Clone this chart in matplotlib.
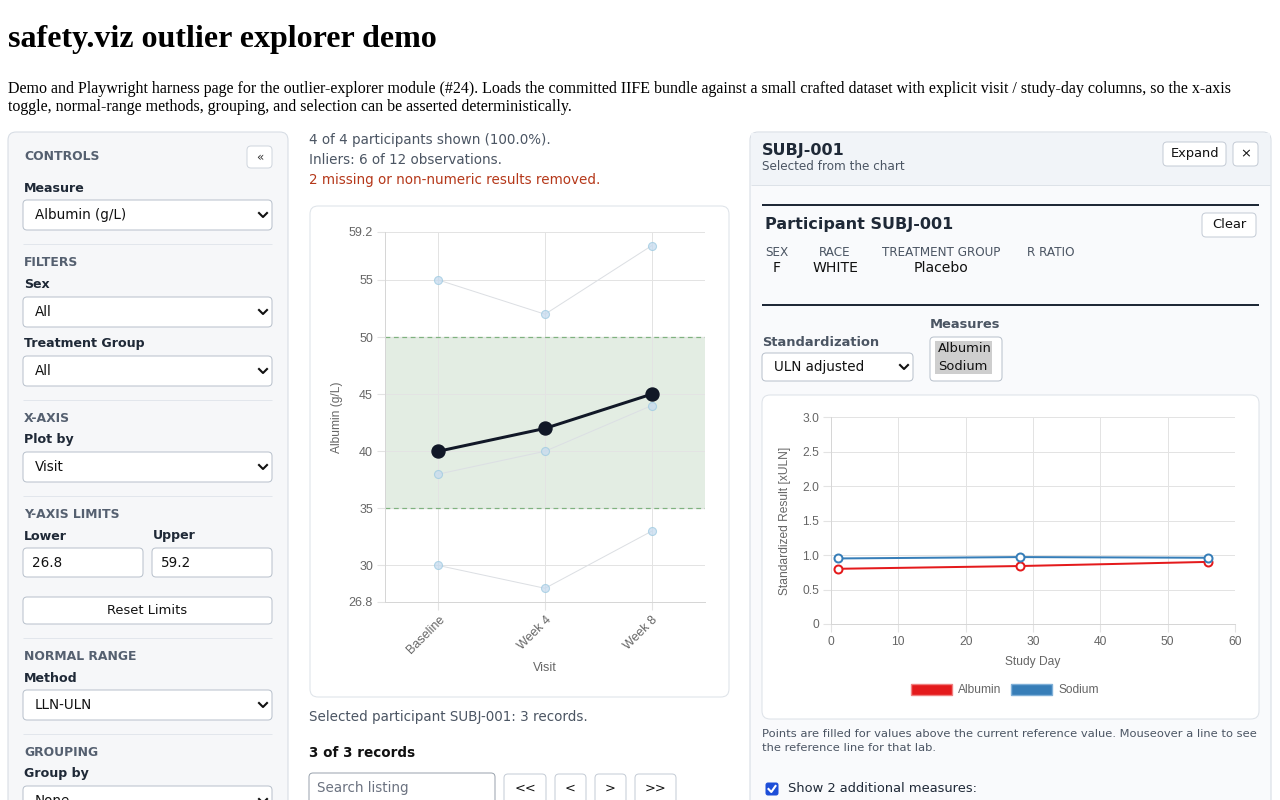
import matplotlib
matplotlib.use("Agg")
import matplotlib.pyplot as plt
from matplotlib.patches import FancyBboxPatch, Rectangle, Patch

W, H = 1280, 800
UI = "DejaVu Sans"
CH = "Liberation Sans"
SERIF = "Liberation Serif"

# main chart data (Albumin g/L by visit)
visits = ["Baseline", "Week 4", "Week 8"]
other_subjects = [
    [55, 52, 58],
    [38, 40, 44],
    [30, 28, 33],
]
selected_vals = [40, 42, 45]
lln, uln = 35, 50
y_lower, y_upper = 26.8, 59.2
y_ticks = [26.8, 30, 35, 40, 45, 50, 55, 59.2]

# participant panel data (standardized xULN by study day)
study_days = [1, 28, 56]
albumin_std = [0.80, 0.84, 0.90]
sodium_std = [0.95, 0.97, 0.96]

fig = plt.figure(figsize=(W / 100, H / 100), dpi=100)
bg = fig.add_axes([0, 0, 1, 1], zorder=0)
bg.set_xlim(0, W)
bg.set_ylim(H, 0)
bg.axis("off")


def px(v):
    return v * 0.72


def box(x0, y0, x1, y1, fc="white", ec="#c5ccd6", r=4, lw=1, z=1):
    bg.add_patch(FancyBboxPatch((x0, y0), x1 - x0, y1 - y0,
                                boxstyle=f"round,pad=0,rounding_size={r}",
                                fc=fc, ec=ec, lw=px(lw), zorder=z))


def txt(x, y, s, size, color="#1f2937", weight="normal", ha="left", family=UI, z=5):
    bg.text(x, y, s, fontsize=px(size), color=color, fontweight=weight,
            ha=ha, va="center", family=family, zorder=z)


def hline(x0, x1, y, color="#e2e6ec", lw=1, z=2):
    bg.plot([x0, x1], [y, y], color=color, lw=px(lw), zorder=z, solid_capstyle="butt")


def chevron(x, y, z=6):
    bg.plot([x - 4, x, x + 4], [y - 2, y + 2, y - 2], color="#111111", lw=1.5, zorder=z)


def select(x0, y0, x1, y1, label, size=13.5):
    box(x0, y0, x1, y1, fc="white", ec="#b9c1cc", r=4, z=3)
    txt(x0 + 12, (y0 + y1) / 2, label, size, color="#111111")
    chevron(x1 - 9, (y0 + y1) / 2)


# header
txt(8, 40, "safety.viz outlier explorer demo", 32, color="black", weight="bold", family=SERIF)
txt(8, 89, "Demo and Playwright harness page for the outlier-explorer module (#24). Loads the committed IIFE bundle "
    "against a small crafted dataset with explicit visit / study-day columns, so the x-axis", 16, color="black", family=SERIF)
txt(8, 107, "toggle, normal-range methods, grouping, and selection can be asserted deterministically.", 16,
    color="black", family=SERIF)

# left controls panel
box(8, 132, 288, 840, fc="#f6f7f9", ec="#d5dbe3", r=8, z=1)
sec = "#556070"
lab_sz = 12.6
txt(24, 157, "CONTROLS", 12.4, color=sec, weight="bold")
box(247, 146, 272, 168, fc="white", ec="#d0d6de", r=4, z=3)
txt(259.5, 157, "«", 12, color="#333333", ha="center")
txt(24, 188, "Measure", lab_sz, weight="bold")
select(23, 200, 272, 230, "Albumin (g/L)")
hline(23, 272, 244)
txt(24, 263, "FILTERS", 12.4, color=sec, weight="bold")
txt(24, 285, "Sex", lab_sz, weight="bold")
select(23, 297, 272, 327, "All")
txt(24, 344, "Treatment Group", lab_sz, weight="bold")
select(23, 356, 272, 386, "All")
hline(23, 272, 400)
txt(24, 418, "X-AXIS", 12.4, color=sec, weight="bold")
txt(24, 440, "Plot by", lab_sz, weight="bold")
select(23, 452, 272, 482, "Visit")
hline(23, 272, 496)
txt(24, 514, "Y-AXIS LIMITS", 12.4, color=sec, weight="bold")
txt(24, 536, "Lower", lab_sz, weight="bold")
txt(153, 536, "Upper", lab_sz, weight="bold")
box(23, 548, 143, 577, fc="white", ec="#b9c1cc", r=4, z=3)
txt(32, 563, "26.8", 13.5, color="#111111")
box(152, 548, 272, 577, fc="white", ec="#b9c1cc", r=4, z=3)
txt(161, 563, "59.2", 13.5, color="#111111")
box(23, 597, 272, 624, fc="white", ec="#b9c1cc", r=4, z=3)
txt(147.5, 611, "Reset Limits", 13, color="#111111", ha="center")
hline(23, 272, 638)
txt(24, 656, "NORMAL RANGE", 12.4, color=sec, weight="bold")
txt(24, 678, "Method", lab_sz, weight="bold")
select(23, 690, 272, 720, "LLN-ULN")
hline(23, 272, 734)
txt(24, 752, "GROUPING", 12.4, color=sec, weight="bold")
txt(24, 774, "Group by", lab_sz, weight="bold")
select(23, 786, 272, 816, "None")

# middle column
txt(309, 140, "4 of 4 participants shown (100.0%).", 13.5, color="#4b5563")
txt(309, 160, "Inliers: 6 of 12 observations.", 13.5, color="#4b5563")
txt(309, 180, "2 missing or non-numeric results removed.", 13.5, color="#b5381a")
box(310, 206, 729, 697, fc="white", ec="#dde2e8", r=8, z=1)
txt(309, 717, "Selected participant SUBJ-001: 3 records.", 13.5, color="#4b5563")
txt(309, 753, "3 of 3 records", 13.5, color="#111111", weight="bold")
box(309, 773, 495, 810, fc="white", ec="#9aa3ae", r=4, z=3)
txt(317, 788, "Search listing", 13.5, color="#6b7280")
for x0, x1, lab in [(504, 546, "<<"), (555, 586, "<"), (595, 626, ">"), (635, 676, ">>")]:
    box(x0, 774, x1, 810, fc="white", ec="#c5ccd6", r=4, z=3)
    txt((x0 + x1) / 2, 788, lab, 13, color="#111111", ha="center")

# right participant panel
box(750, 132, 1271, 840, fc="#f9fafc", ec="#d5dbe3", r=8, z=1)
bg.add_patch(Rectangle((751, 133), 519, 52, fc="#f1f4f8", ec="none", zorder=1.5))
hline(751, 1270, 185, color="#dde2e8")
txt(762, 151, "SUBJ-001", 16, color="#1f2937", weight="bold")
txt(762, 167, "Selected from the chart", 12, color="#4b5563")
box(1163, 142, 1226, 166, fc="white", ec="#c5ccd6", r=4, z=3)
txt(1194.5, 154, "Expand", 13, color="#111111", ha="center")
box(1233, 142, 1258, 166, fc="white", ec="#c5ccd6", r=4, z=3)
txt(1245.5, 154, "×", 13, color="#111111", ha="center")
hline(762, 1259, 205, color="#1f2937", lw=2)
txt(765, 224, "Participant SUBJ-001", 16, color="#1f2937", weight="bold")
box(1202, 213, 1256, 237, fc="white", ec="#c5ccd6", r=4, z=3)
txt(1229, 225, "Clear", 13, color="#111111", ha="center")
for cx, lab, val in [(776.5, "SEX", "F"), (835, "RACE", "WHITE"), (941, "TREATMENT GROUP", "Placebo"),
                     (1051, "R RATIO", "")]:
    txt(cx, 253, lab, 12, color="#4b5563", ha="center")
    txt(cx, 268, val, 14, color="#111111", ha="center")
hline(762, 1259, 305, color="#1f2937", lw=2)
txt(930, 325, "Measures", 13, color="#4b5563", weight="bold")
txt(762, 342, "Standardization", 13, color="#4b5563", weight="bold")
select(762, 353, 913, 381, "ULN adjusted")
box(930, 337, 1002, 381, fc="white", ec="#b9c1cc", r=4, z=3)
bg.add_patch(Rectangle((935, 341), 57, 33, fc="#cecece", ec="none", zorder=4))
txt(938, 349, "Albumin", 13, color="#111111")
txt(938, 366, "Sodium", 13, color="#111111")
box(762, 395, 1259, 719, fc="white", ec="#dde2e8", r=8, z=1)
txt(762, 734, "Points are filled for values above the current reference value. Mouseover a line to see", 11.5,
    color="#4b5563")
txt(762, 748, "the reference line for that lab.", 11.5, color="#4b5563")
box(766, 783, 778, 795, fc="#1d4ed8", ec="#1d4ed8", r=2, z=3)
bg.plot([768.5, 771.3, 775.5], [789, 792, 786], color="white", lw=1.5, zorder=4)
txt(788, 789, "Show 2 additional measures:", 13, color="#1f2937")

grid_c = "#e3e3e3"
tick_c = "#666666"

# main outlier chart
L, R, T, B = 385, 705, 232, 602
ax1 = fig.add_axes([L / W, 1 - B / H, (R - L) / W, (B - T) / H], zorder=2)
ax1.set_facecolor("none")
xs = list(range(len(visits)))
ax1.axhspan(lln, uln, color="#e3ede3", zorder=0)
ax1.axhline(lln, color="#7fb27f", ls=(0, (4, 3)), lw=px(1.2), zorder=1)
ax1.axhline(uln, color="#7fb27f", ls=(0, (4, 3)), lw=px(1.2), zorder=1)
for vals in other_subjects:
    ax1.plot(xs, vals, color="#dcdfe3", lw=px(1), zorder=2)
    ax1.plot(xs, vals, ls="none", marker="o", ms=px(8), mfc="#c6dbef", mec="#9ecae1", mew=0.8,
             alpha=0.75, zorder=3)
ax1.plot(xs, selected_vals, color="#111827", lw=px(3), marker="o", ms=px(13), zorder=4)
ax1.set_xlim(-0.5, 2.5)
ax1.set_ylim(y_lower, y_upper)
ax1.set_yticks(y_ticks)
ax1.set_yticklabels([f"{t:g}" for t in y_ticks])
ax1.set_xticks(xs)
ax1.set_xticklabels(visits, rotation=45, ha="right", rotation_mode="anchor")
ax1.grid(True, color=grid_c, lw=px(1), zorder=0)
ax1.set_axisbelow(True)
for s in ["top", "right"]:
    ax1.spines[s].set_visible(False)
for s in ["left", "bottom"]:
    ax1.spines[s].set_color("#d6d6d6")
    ax1.spines[s].set_linewidth(px(1))
ax1.tick_params(length=px(8), color=grid_c, labelcolor=tick_c, labelsize=px(12.5), pad=px(4))
for lab in ax1.get_xticklabels() + ax1.get_yticklabels():
    lab.set_family(CH)
ax1.set_ylabel("Albumin (g/L)", family=CH, fontsize=px(12), color=tick_c)
ax1.set_xlabel("Visit", family=CH, fontsize=px(12.5), color=tick_c)
ax1.yaxis.set_label_coords((343 - L) / (R - L), 0.5)
ax1.xaxis.set_label_coords(0.5, (B - 662) / (B - T))

# participant standardized chart
L2, R2, T2, B2 = 831, 1235, 417, 624
ax2 = fig.add_axes([L2 / W, 1 - B2 / H, (R2 - L2) / W, (B2 - T2) / H], zorder=2)
ax2.set_facecolor("none")
ax2.plot(study_days, albumin_std, color="#e41a1c", lw=px(2), marker="o", ms=px(8), mfc="white",
         mec="#e41a1c", mew=px(2), zorder=3)
ax2.plot(study_days, sodium_std, color="#377eb8", lw=px(2), marker="o", ms=px(8), mfc="white",
         mec="#377eb8", mew=px(2), zorder=3)
ax2.set_xlim(0, 60)
ax2.set_ylim(0, 3)
ax2.set_xticks(range(0, 61, 10))
yt2 = [0, 0.5, 1.0, 1.5, 2.0, 2.5, 3.0]
ax2.set_yticks(yt2)
ax2.set_yticklabels(["0"] + [f"{v:.1f}" for v in yt2[1:]])
ax2.grid(True, color=grid_c, lw=px(1))
ax2.set_axisbelow(True)
for s in ["top", "right"]:
    ax2.spines[s].set_visible(False)
for s in ["left", "bottom"]:
    ax2.spines[s].set_color("#d6d6d6")
    ax2.spines[s].set_linewidth(px(1))
ax2.tick_params(length=px(8), color=grid_c, labelcolor=tick_c, labelsize=px(12), pad=px(4))
for lab in ax2.get_xticklabels() + ax2.get_yticklabels():
    lab.set_family(CH)
ax2.set_ylabel("Standardized Result [xULN]", family=CH, fontsize=px(12), color=tick_c)
ax2.set_xlabel("Study Day", family=CH, fontsize=px(12), color=tick_c)
ax2.yaxis.set_label_coords((791 - L2) / (R2 - L2), 0.5)
ax2.xaxis.set_label_coords(0.5, (B2 - 656) / (B2 - T2))
leg = ax2.legend(handles=[Patch(fc="#e41a1c", ec="#f08080", label="Albumin"),
                          Patch(fc="#377eb8", ec="#7fb0d8", label="Sodium")],
                 loc="center", bbox_to_anchor=((1005 - L2) / (R2 - L2), (B2 - 690) / (B2 - T2)),
                 ncol=2, frameon=False, handlelength=3.4, handleheight=1.0, handletextpad=0.5,
                 columnspacing=0.8, prop={"family": CH, "size": px(12)})
for t in leg.get_texts():
    t.set_color(tick_c)

fig.savefig("out.png", dpi=100)
